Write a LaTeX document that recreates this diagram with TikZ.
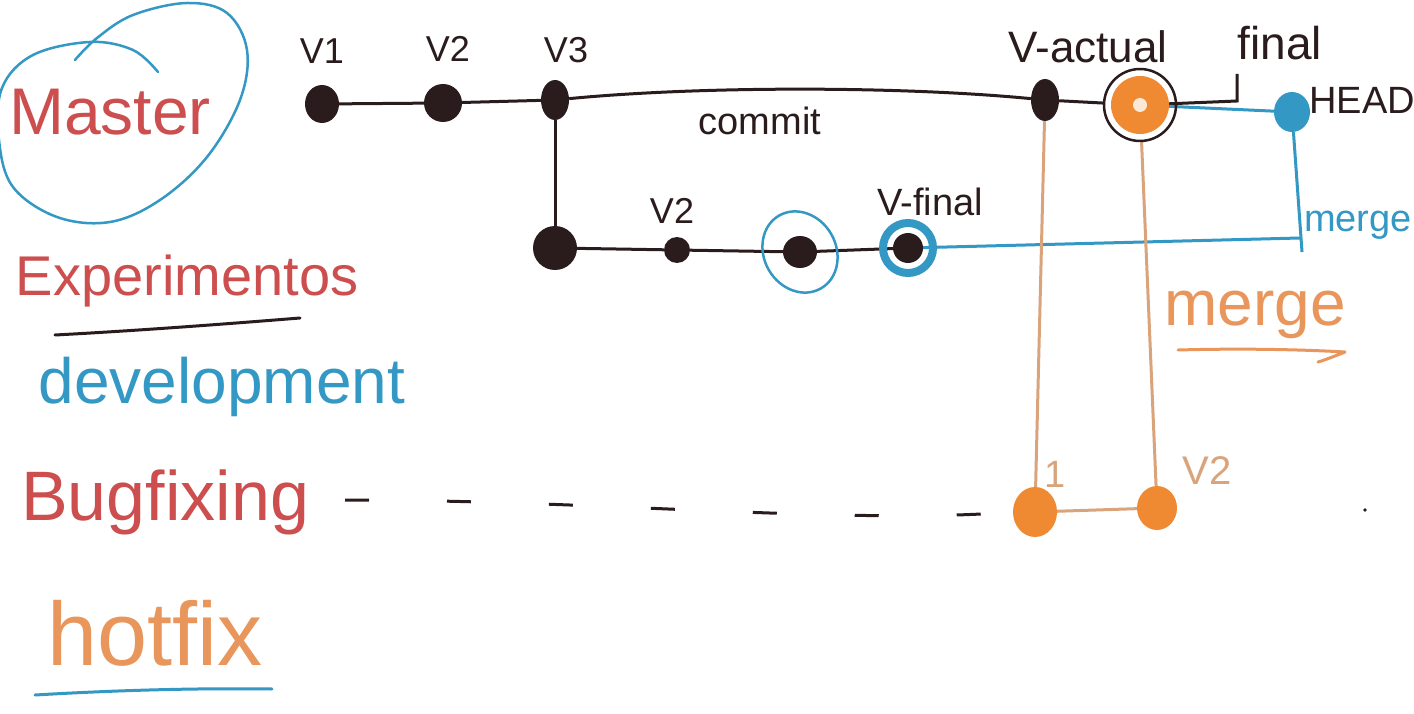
\documentclass[tikz,border=0pt]{standalone}
\usepackage{fontspec}
\setmainfont{Liberation Sans}
\usetikzlibrary{shapes.geometric}
\definecolor{inkblack}{HTML}{2A1C1C}
\definecolor{inkred}{HTML}{CC4E4E}
\definecolor{inkblue}{HTML}{3498C4}
\definecolor{inkorange}{HTML}{EF8A33}
\definecolor{inktan}{HTML}{D9A47C}
\definecolor{inkmerge}{HTML}{E8965C}
\pgfdeclarelayer{bg}
\pgfsetlayers{bg,main}
\newcommand{\fs}[1]{\fontsize{#1}{#1}\selectfont}
\begin{document}
\begin{tikzpicture}[x=1pt,y=-1pt,line cap=round,line join=round,
  commitnode/.style={ellipse,fill=inkblack,inner sep=0pt},
  hotnode/.style={ellipse,fill=inkorange,inner sep=0pt},
  lbl/.style={inner sep=0pt,anchor=base,text=inkblack},
  blackline/.style={draw=inkblack,line width=3pt},
  blueline/.style={draw=inkblue,line width=3pt},
  tanline/.style={draw=inktan,line width=3pt}]
\useasboundingbox (0,0) rectangle (1414,714);

% left legend
\draw[inkblue,line width=2.5pt] plot[smooth,tension=0.6] coordinates {(75,60) (97,38) (133,15) (187,3) (227,13) (247,50) (240,100) (207,157) (160,200) (110,222) (57,217) (13,187) (-1,140) (2,88) (33,55) (90,42) (133,50) (158,72)};
\node[lbl,text=inkred] (tmaster) at (110,135) {\fs{66}Master};
\node[lbl,text=inkred] (texp) at (187,295) {\fs{56}Experimentos};
\draw[inkblack,line width=3pt] (55,335) .. controls (150,330) and (250,322) .. (300,318);
\node[lbl,text=inkblue] (tdev) at (222,403) {\fs{64}development};
\node[lbl,text=inkred] (tbug) at (165,520) {\fs{70}Bugfixing};
\node[lbl,text=inkmerge] (thot) at (155,665) {\fs{90}hotfix};
\draw[inkblue,line width=3pt] (35,695) .. controls (120,690) and (200,688) .. (272,689);

% master branch
\node[commitnode,minimum width=34,minimum height=38] (v1) at (322,104) {};
\node[commitnode,minimum width=38,minimum height=38] (v2) at (443,103) {};
\node[commitnode,minimum width=28,minimum height=40] (v3) at (555,100) {};
\node[commitnode,minimum width=28,minimum height=42] (vact) at (1045,100) {};
\node[circle,draw=inkblack,line width=2.5pt,minimum size=72,inner sep=0pt] (mtop) at (1140,105) {};
\fill[inkorange] (mtop.center) circle (29);
\fill[white!80!inkorange] (mtop.center) circle (7);
\node[commitnode,fill=inkblue,minimum width=36,minimum height=40] (head) at (1292,112) {};

\node[lbl] (lv1) at (322,64) {\fs{36}V1};
\node[lbl] (lv2) at (448,62) {\fs{36}V2};
\node[lbl] (lv3) at (566,63) {\fs{36}V3};
\node[lbl] (lcommit) at (760,135) {\fs{38}commit};
\node[lbl] (lvact) at (1088,63) {\fs{44}V-actual};
\node[lbl] (lfinal) at (1280,60) {\fs{46}final};
\node[lbl] (lhead) at (1362,114) {\fs{38}HEAD};

% experiment branch
\node[commitnode,minimum size=44] (e0) at (555,248) {};
\node[commitnode,minimum size=26] (e1) at (677,250) {};
\node[commitnode,minimum width=34,minimum height=32] (e2) at (800,252) {};
\draw[inkblue,line width=2.5pt,rotate around={30:(800,252)}] (800,252) ellipse (36 and 42);
\node[commitnode,minimum size=30] (e3) at (908,248) {};
\draw[inkblue,line width=8pt] (e3.center) circle (25);
\node[lbl] (le1) at (672,224) {\fs{36}V2};
\node[lbl] (le3) at (930,216) {\fs{38}V-final};
\node[lbl,text=inkblue] (lmergeb) at (1358,232) {\fs{38}merge};
\coordinate (mb) at (1300,238);
\coordinate (mbend) at (1302,252);

% hotfix branch
\node[hotnode,minimum width=44,minimum height=50] (h1) at (1035,512) {};
\node[hotnode,minimum width=40,minimum height=44] (h2) at (1157,508) {};
\node[lbl,text=inktan] (lh1) at (1055,487) {\fs{38}1};
\node[lbl,text=inktan] (lh2) at (1207,484) {\fs{40}V2};
\node[lbl,text=inkmerge] (lmergeo) at (1255,325) {\fs{64}merge};
\draw[inkmerge,line width=3pt] (1178,350) .. controls (1250,348) and (1310,350) .. (1345,352) .. controls (1335,356) and (1325,360) .. (1318,362);
\coordinate (dstart) at (345,500);
\coordinate (tick) at (1237,74);
\coordinate (tickbase) at (1237,101);

\begin{pgfonlayer}{bg}
\fill[white] (0,0) rectangle (1414,714);
\draw[blackline] (v1) -- (v2) -- (v3);
\draw[blackline] (v3) .. controls (700,86) and (900,86) .. (vact);
\draw[blackline] (vact) -- (mtop);
\draw[blackline] (mtop.center) -- (tickbase) -- (tick);
\draw[blackline] (v3) -- (e0);
\draw[blackline] (e0) -- (e1) -- (e2) -- (e3);
\draw[blueline] (mtop.center) -- (head);
\draw[blueline] (e3) -- (mb);
\draw[blueline] (head) -- (mbend);
\draw[tanline] (vact) -- (h1);
\draw[tanline] (mtop) -- (h2);
\draw[tanline] (h1) -- (h2);
\draw[inkblack,line width=3pt,dash pattern=on 24pt off 78pt] (dstart) .. controls (600,500) and (850,525) .. (h1.west);
\fill[inkblack] (1365,510) circle (1.8);
\end{pgfonlayer}
\end{tikzpicture}
\end{document}
